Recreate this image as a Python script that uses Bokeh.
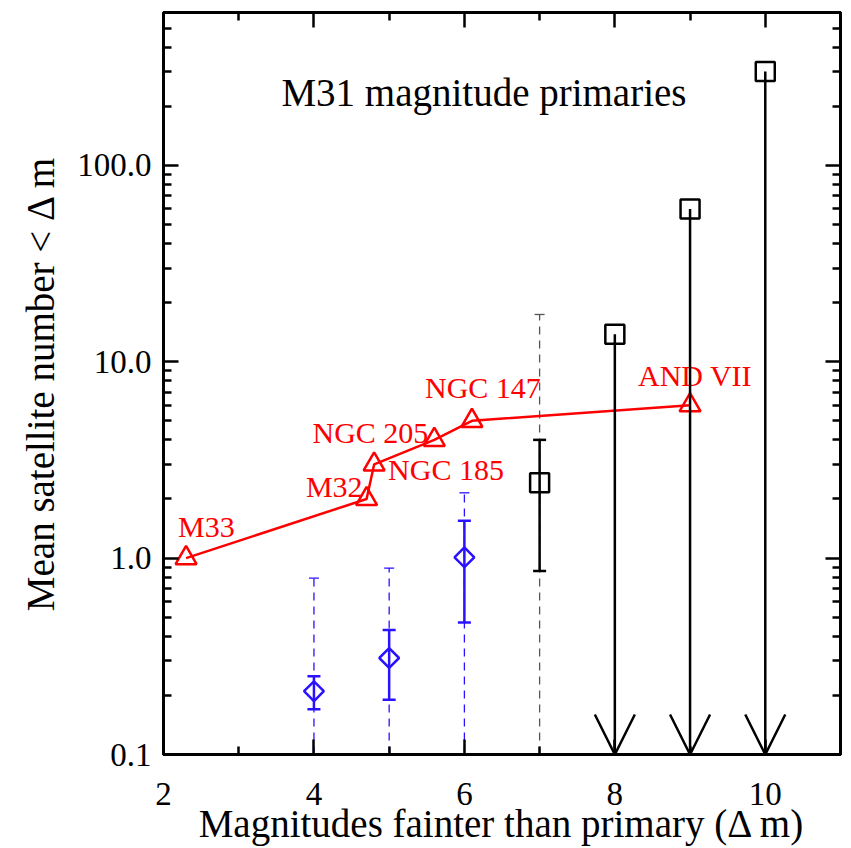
import math
from bokeh.plotting import figure
from bokeh.models import (FixedTicker, LinearAxis, LogAxis, Range1d, ColumnDataSource,
                          Whisker, TeeHead, Arrow, OpenHead, Label)
from bokeh.embed import file_html
from bokeh.resources import INLINE
from bokeh.core.properties import value

# ---------------- data ----------------
gal_names = ["M33", "M32", "NGC 185", "NGC 205", "NGC 147", "AND VII"]
gal_dm = [2.3, 4.7, 4.8, 5.6, 6.1, 9.0]
gal_n = [1.0, 2.0, 3.0, 4.0, 5.0, 6.0]

blue_dm = [4.0, 5.0, 6.0]
blue_n = [0.21, 0.31, 1.01]
blue_lo1 = [0.17, 0.19, 0.47]
blue_hi1 = [0.25, 0.43, 1.55]
blue_lo2 = [0.1, 0.1, 0.1]
blue_hi2 = [0.79, 0.89, 2.15]

blk_dm = [7.0]
blk_n = [2.42]
blk_lo1 = [0.86]
blk_hi1 = [4.0]
blk_lo2 = [0.1]
blk_hi2 = [17.4]

lim_dm = [8.0, 9.0, 10.0]
lim_n = [13.8, 60.0, 300.0]
lim_floor = [0.1, 0.1, 0.1]

x_ticks = [2, 4, 6, 8, 10]
x_minor = [3, 5, 7, 9]
y_ticks = [0.1, 1.0, 10.0, 100.0]
y_tick_labels = ["0.1", "1.0", "10.0", "100.0"]
y_minor = [m * d for d in (0.1, 1.0, 10.0, 100.0) for m in range(2, 10)]

title_text = "M31 magnitude primaries"
x_label = "Magnitudes fainter than primary (\u0394 m)"
y_label = "Mean satellite number < \u0394 m"

# ---------------- style ----------------
FONT = "Liberation Serif"
RED = "#ff0000"
BLUE = "#2a12ff"

p = figure(width=851, height=848, y_axis_type="log",
           x_range=Range1d(2, 11), y_range=Range1d(0.1, 600),
           output_backend="svg", toolbar_location=None,
           min_border_left=163, min_border_right=11,
           min_border_top=12, min_border_bottom=94)
p.grid.visible = False
p.background_fill_color = "white"
p.border_fill_color = "white"
p.outline_line_color = "black"
p.outline_line_width = 3


def style_axis(ax, ticks, minor, labels=None, show=True):
    ax.ticker = FixedTicker(ticks=ticks, minor_ticks=minor)
    ax.axis_line_width = 3
    ax.axis_line_color = "black"
    ax.major_tick_in = 15
    ax.major_tick_out = 0
    ax.minor_tick_in = 8
    ax.minor_tick_out = 0
    ax.major_tick_line_width = 2.5
    ax.minor_tick_line_width = 2.5
    ax.major_label_text_font = FONT
    ax.axis_label_text_font = FONT
    ax.axis_label_text_font_style = "normal"
    ax.major_label_text_color = "black"
    ax.axis_label_text_color = "black"
    if labels is not None:
        ax.major_label_overrides = labels
    if not show:
        ax.major_label_overrides = {t: "" for t in ticks}
        ax.major_label_text_font_size = "0px"
        ax.major_label_standoff = 0


xa = p.xaxis[0]
style_axis(xa, x_ticks, x_minor)
xa.major_label_text_font_size = "33px"
xa.major_label_standoff = 28
xa.axis_label = x_label
xa.axis_label_text_font_size = "39px"
xa.axis_label_standoff = -6

ya = p.yaxis[0]
style_axis(ya, y_ticks, y_minor, labels={t: s for t, s in zip(y_ticks, y_tick_labels)})
ya.major_label_text_font_size = "33px"
ya.major_label_standoff = 12
ya.axis_label = y_label
ya.axis_label_text_font_size = "39px"
ya.axis_label_standoff = 12

top = LinearAxis()
style_axis(top, x_ticks, x_minor, show=False)
p.add_layout(top, "above")
right = LogAxis()
style_axis(right, y_ticks, y_minor, show=False)
p.add_layout(right, "right")

# ---------------- blue points with error bars ----------------
bsrc = ColumnDataSource(dict(x=blue_dm, y=blue_n, lo1=blue_lo1, hi1=blue_hi1,
                             lo2=blue_lo2, hi2=blue_hi2))
p.add_layout(Whisker(source=bsrc, base="x", lower="lo2", upper="hi2",
                     line_color=BLUE, line_width=1.3, line_dash="8 6",
                     upper_head=TeeHead(size=10, line_color=BLUE, line_width=1.3),
                     lower_head=TeeHead(size=10, line_color=BLUE, line_width=1.3)))
p.add_layout(Whisker(source=bsrc, base="x", lower="lo1", upper="hi1",
                     line_color=BLUE, line_width=2.5,
                     upper_head=TeeHead(size=13, line_color=BLUE, line_width=2.5),
                     lower_head=TeeHead(size=13, line_color=BLUE, line_width=2.5)))
p.scatter("x", "y", source=bsrc, marker="square", angle=math.pi / 4, size=14,
          fill_color="white", fill_alpha=0, line_color=BLUE, line_width=2.5)

# ---------------- black point with error bars ----------------
ksrc = ColumnDataSource(dict(x=blk_dm, y=blk_n, lo1=blk_lo1, hi1=blk_hi1,
                             lo2=blk_lo2, hi2=blk_hi2))
p.add_layout(Whisker(source=ksrc, base="x", lower="lo2", upper="hi2",
                     line_color="#555555", line_width=1.3, line_dash="8 6",
                     upper_head=TeeHead(size=10, line_color="#555555", line_width=1.3),
                     lower_head=TeeHead(size=10, line_color="#555555", line_width=1.3)))
p.add_layout(Whisker(source=ksrc, base="x", lower="lo1", upper="hi1",
                     line_color="black", line_width=2.5,
                     upper_head=TeeHead(size=13, line_color="black", line_width=2.5),
                     lower_head=TeeHead(size=13, line_color="black", line_width=2.5)))
p.scatter("x", "y", source=ksrc, marker="square", size=19,
          fill_alpha=0, line_color="black", line_width=2.5)

# ---------------- upper limits (arrows) ----------------
lsrc = ColumnDataSource(dict(x=lim_dm, y=lim_n, y0=lim_floor))
p.add_layout(Arrow(source=lsrc, x_start="x", y_start="y", x_end="x", y_end="y0",
                   line_color="black", line_width=2.5,
                   end=OpenHead(size=40, line_color="black", line_width=2.5)))
p.scatter("x", "y", source=lsrc, marker="square", size=19,
          fill_color="white", line_color="black", line_width=2.5)

# ---------------- red primaries ----------------
offsets = {
    "M33": ("left", -8, -32),
    "M32": ("right", -4, -12),
    "NGC 185": ("left", 14, 5),
    "NGC 205": ("right", -6, -7),
    "NGC 147": ("center", 11, -33),
    "AND VII": ("center", 5, -30),
}
gsrc = ColumnDataSource(dict(x=gal_dm, y=gal_n, name=gal_names,
                             align=[offsets[n][0] for n in gal_names],
                             xo=[offsets[n][1] for n in gal_names],
                             yo=[offsets[n][2] for n in gal_names]))
p.line("x", "y", source=gsrc, line_color=RED, line_width=2.5)
p.scatter("x", "y", source=gsrc, marker="triangle", size=21,
          fill_alpha=0, line_color=RED, line_width=2.5)
p.text("x", "y", text="name", source=gsrc, text_align="align",
       x_offset="xo", y_offset="yo", text_baseline="middle",
       text_font=value(FONT), text_font_size="30px", text_color=RED)

# ---------------- title inside plot ----------------
p.add_layout(Label(x=6.26, y=235, text=title_text, text_align="center",
                   text_baseline="middle", text_font=FONT,
                   text_font_size="39px", text_color="black"))

open("out.html", "w").write(file_html(p, INLINE))
